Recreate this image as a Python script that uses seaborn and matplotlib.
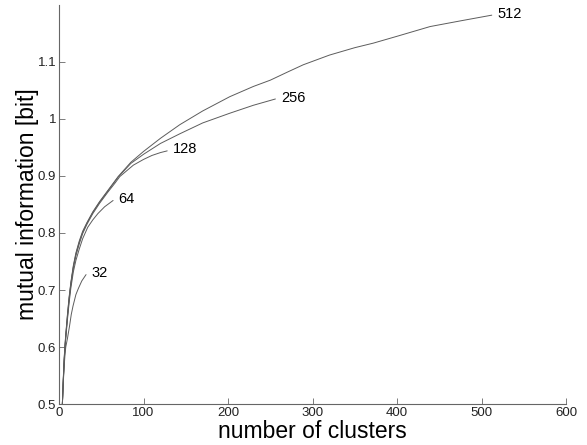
import matplotlib
matplotlib.use("Agg")
import matplotlib.pyplot as plt
import numpy as np
import pandas as pd
import seaborn as sns

# ---- data ----
x512 = [2, 3, 4, 5, 6, 7, 8, 10, 12, 14, 17, 20, 24, 28, 33, 40, 48, 58, 70, 85,
        100, 120, 143, 170, 202, 230, 250, 270, 289, 320, 350, 372, 400, 439, 475, 512]
y512 = [0.30, 0.42, 0.50, 0.542, 0.577, 0.602, 0.622, 0.657, 0.688, 0.713, 0.743, 0.765,
        0.786, 0.803, 0.818, 0.837, 0.855, 0.875, 0.899, 0.924, 0.943, 0.966, 0.990,
        1.014, 1.039, 1.057, 1.068, 1.082, 1.095, 1.112, 1.125, 1.133, 1.145, 1.162,
        1.172, 1.182]

x256 = [2, 3, 4, 5, 6, 7, 8, 10, 12, 14, 17, 20, 24, 28, 33, 40, 48, 58, 70, 85,
        100, 120, 143, 170, 202, 230, 256]
y256 = [0.30, 0.42, 0.50, 0.540, 0.575, 0.600, 0.620, 0.655, 0.686, 0.711, 0.741, 0.763,
        0.784, 0.801, 0.817, 0.836, 0.854, 0.874, 0.898, 0.922, 0.938, 0.957, 0.974,
        0.993, 1.010, 1.024, 1.035]

x128 = [2, 3, 4, 5, 6, 7, 8, 10, 12, 14, 17, 20, 24, 28, 33, 40, 48, 58, 66, 72, 80,
        88, 100, 110, 120, 128]
y128 = [0.30, 0.42, 0.50, 0.538, 0.572, 0.597, 0.618, 0.652, 0.683, 0.709, 0.739, 0.760,
        0.781, 0.799, 0.815, 0.834, 0.852, 0.872, 0.887, 0.899, 0.909, 0.919, 0.929,
        0.936, 0.941, 0.944]

x64 = [2, 3, 4, 5, 6, 7, 8, 10, 12, 14, 17, 20, 24, 28, 34, 40, 46, 54, 64]
y64 = [0.30, 0.42, 0.50, 0.537, 0.570, 0.595, 0.615, 0.648, 0.678, 0.703, 0.732, 0.752,
       0.772, 0.790, 0.810, 0.823, 0.834, 0.846, 0.857]

x32 = [2, 3, 4, 5, 6, 7, 8, 10, 12.6, 14.5, 16.6, 20, 23, 27, 32]
y32 = [0.30, 0.42, 0.50, 0.535, 0.563, 0.585, 0.600, 0.615, 0.638, 0.657, 0.672,
       0.692, 0.703, 0.716, 0.727]

series_names = ["32", "64", "128", "256", "512"]
series_x = [x32, x64, x128, x256, x512]
series_y = [y32, y64, y128, y256, y512]

xticks = [0, 100, 200, 300, 400, 500, 600]
yticks = [0.5, 0.6, 0.7, 0.8, 0.9, 1.0, 1.1]
ytick_labels = ["0.5", "0.6", "0.7", "0.8", "0.9", "1", "1.1"]

# ---- long-form table ----
frames = []
for name, xs, ys in zip(series_names, series_x, series_y):
    frames.append(pd.DataFrame({"clusters": xs, "mi": ys, "run": name}))
df = pd.concat(frames, ignore_index=True)

sns.set_style("white")
plt.rcParams["font.family"] = ["Liberation Sans", "DejaVu Sans"]

fig = plt.figure(figsize=(5.87, 4.45), dpi=100)
ax = fig.add_axes([0.1005, 0.092, 0.864, 0.897])

line_color = "#5c5c5c"
sns.lineplot(data=df, x="clusters", y="mi", hue="run", units="run", estimator=None,
             palette={n: line_color for n in series_names}, linewidth=0.7,
             legend=False, ax=ax)

for name, xs, ys in zip(series_names, series_x, series_y):
    ax.annotate(name, xy=(xs[-1], ys[-1]), xytext=(4, 1), textcoords="offset points",
                ha="left", va="center", fontsize=10.5, color="black")

ax.set_xlim(0, 600)
ax.set_ylim(0.5, 1.2)
ax.set_xticks(xticks)
ax.set_yticks(yticks)
ax.set_yticklabels(ytick_labels)

ax.tick_params(axis="both", which="major", direction="in", length=4, width=0.6,
               color="#666666", labelsize=9.5, labelcolor="#222222", pad=2,
               bottom=True, left=True, top=False, right=False)

for side in ["top", "right"]:
    ax.spines[side].set_visible(False)
for side in ["left", "bottom"]:
    ax.spines[side].set_color("#666666")
    ax.spines[side].set_linewidth(0.8)

ax.set_xlabel("number of clusters", fontsize=16.5, color="black", labelpad=1)
ax.set_ylabel("mutual information [bit]", fontsize=16.5, color="black", labelpad=-1)

fig.savefig("out.png", dpi=100)
